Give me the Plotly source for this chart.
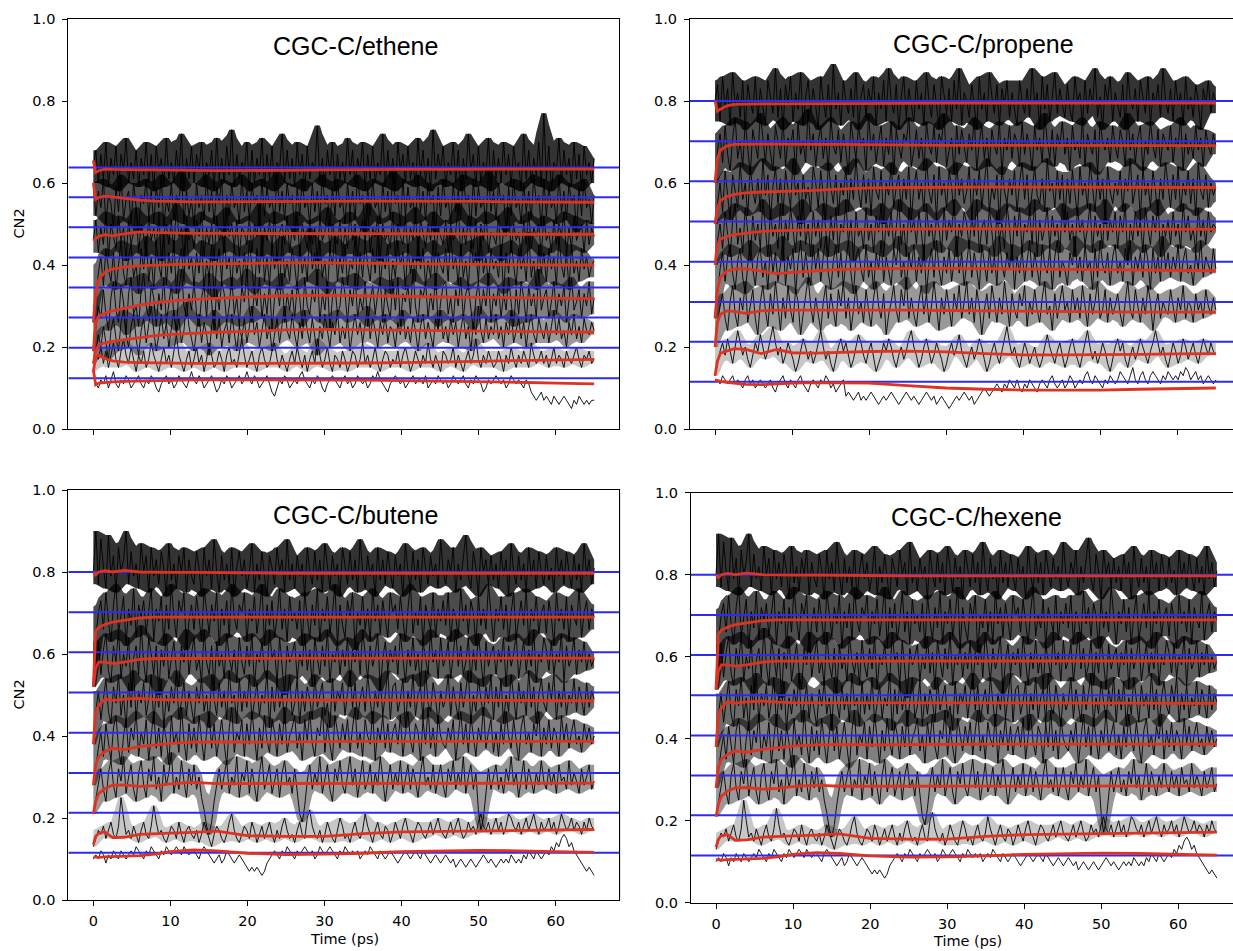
import numpy as np
import pandas as pd
import plotly.graph_objects as go

# ---------------- data ----------------
red_time = [0, 0.3, 0.7, 1.5, 2.5, 4, 6, 8, 10, 13, 16, 20, 25, 30, 35, 40, 45, 50, 55, 60, 65]
x_ticks = [0, 10, 20, 30, 40, 50, 60]
y_ticks = [0.0, 0.2, 0.4, 0.6, 0.8, 1.0]
y_tick_labels = ["0.0", "0.2", "0.4", "0.6", "0.8", "1.0"]

ethene_levels = [0.638, 0.565, 0.492, 0.418, 0.345, 0.272, 0.198, 0.124]
alkene_levels = [0.800, 0.702, 0.604, 0.506, 0.408, 0.310, 0.213, 0.115]

# running averages (red)
ethene_avg_1 = [0.655, 0.625, 0.630, 0.634, 0.633, 0.632, 0.632, 0.632, 0.631, 0.631, 0.630, 0.630, 0.631, 0.632, 0.633, 0.633, 0.633, 0.634, 0.634, 0.634, 0.634]
ethene_avg_2 = [0.600, 0.560, 0.565, 0.568, 0.566, 0.563, 0.558, 0.556, 0.555, 0.554, 0.554, 0.554, 0.555, 0.555, 0.556, 0.556, 0.555, 0.555, 0.554, 0.554, 0.553]
ethene_avg_3 = [0.460, 0.465, 0.470, 0.474, 0.471, 0.476, 0.481, 0.479, 0.478, 0.477, 0.477, 0.477, 0.477, 0.477, 0.477, 0.477, 0.476, 0.476, 0.475, 0.475, 0.475]
ethene_avg_4 = [0.260, 0.330, 0.365, 0.383, 0.390, 0.395, 0.398, 0.400, 0.401, 0.402, 0.403, 0.404, 0.405, 0.405, 0.404, 0.403, 0.402, 0.401, 0.400, 0.400, 0.400]
ethene_avg_5 = [0.190, 0.260, 0.275, 0.282, 0.288, 0.294, 0.302, 0.308, 0.312, 0.316, 0.319, 0.322, 0.325, 0.326, 0.325, 0.323, 0.322, 0.321, 0.320, 0.319, 0.318]
ethene_avg_6 = [0.160, 0.190, 0.205, 0.210, 0.214, 0.218, 0.224, 0.228, 0.231, 0.234, 0.236, 0.238, 0.242, 0.243, 0.242, 0.240, 0.239, 0.238, 0.237, 0.237, 0.236]
ethene_avg_7 = [0.140, 0.175, 0.180, 0.172, 0.166, 0.163, 0.162, 0.161, 0.161, 0.160, 0.160, 0.160, 0.160, 0.160, 0.161, 0.162, 0.163, 0.165, 0.167, 0.169, 0.170]
ethene_avg_8 = [0.145, 0.108, 0.112, 0.114, 0.115, 0.116, 0.117, 0.118, 0.119, 0.120, 0.120, 0.120, 0.120, 0.120, 0.119, 0.118, 0.117, 0.116, 0.114, 0.112, 0.110]

propene_avg_1 = [0.800, 0.775, 0.780, 0.788, 0.792, 0.793, 0.793, 0.793, 0.793, 0.793, 0.794, 0.794, 0.794, 0.795, 0.795, 0.795, 0.795, 0.795, 0.795, 0.795, 0.795]
propene_avg_2 = [0.600, 0.660, 0.680, 0.690, 0.694, 0.695, 0.695, 0.695, 0.694, 0.694, 0.694, 0.693, 0.693, 0.692, 0.692, 0.692, 0.692, 0.691, 0.691, 0.691, 0.691]
propene_avg_3 = [0.500, 0.540, 0.557, 0.567, 0.572, 0.576, 0.578, 0.579, 0.580, 0.582, 0.585, 0.588, 0.589, 0.590, 0.590, 0.590, 0.590, 0.590, 0.590, 0.589, 0.589]
propene_avg_4 = [0.400, 0.450, 0.463, 0.470, 0.474, 0.478, 0.482, 0.484, 0.485, 0.486, 0.487, 0.487, 0.488, 0.488, 0.488, 0.488, 0.488, 0.487, 0.487, 0.487, 0.487]
propene_avg_5 = [0.270, 0.340, 0.370, 0.385, 0.390, 0.391, 0.385, 0.379, 0.382, 0.386, 0.389, 0.391, 0.392, 0.392, 0.391, 0.390, 0.389, 0.388, 0.387, 0.387, 0.386]
propene_avg_6 = [0.200, 0.260, 0.280, 0.288, 0.287, 0.282, 0.288, 0.290, 0.290, 0.290, 0.291, 0.291, 0.290, 0.289, 0.288, 0.287, 0.286, 0.285, 0.285, 0.285, 0.285]
propene_avg_7 = [0.130, 0.165, 0.185, 0.190, 0.196, 0.194, 0.184, 0.194, 0.186, 0.185, 0.187, 0.189, 0.190, 0.188, 0.184, 0.181, 0.181, 0.181, 0.182, 0.183, 0.184]
propene_avg_8 = [0.120, 0.118, 0.116, 0.114, 0.112, 0.109, 0.108, 0.110, 0.112, 0.113, 0.113, 0.112, 0.106, 0.100, 0.097, 0.095, 0.095, 0.095, 0.097, 0.099, 0.100]

butene_avg_1 = [0.800, 0.793, 0.800, 0.803, 0.800, 0.804, 0.800, 0.799, 0.799, 0.799, 0.798, 0.798, 0.797, 0.797, 0.797, 0.797, 0.797, 0.797, 0.797, 0.797, 0.797]
butene_avg_2 = [0.520, 0.655, 0.665, 0.672, 0.678, 0.683, 0.688, 0.690, 0.690, 0.691, 0.691, 0.691, 0.691, 0.691, 0.691, 0.691, 0.691, 0.690, 0.690, 0.690, 0.690]
butene_avg_3 = [0.520, 0.565, 0.580, 0.580, 0.577, 0.580, 0.587, 0.589, 0.589, 0.589, 0.589, 0.589, 0.589, 0.589, 0.590, 0.590, 0.590, 0.590, 0.590, 0.590, 0.590]
butene_avg_4 = [0.380, 0.460, 0.475, 0.490, 0.487, 0.490, 0.492, 0.489, 0.488, 0.488, 0.488, 0.487, 0.487, 0.487, 0.487, 0.487, 0.487, 0.487, 0.487, 0.486, 0.486]
butene_avg_5 = [0.280, 0.330, 0.350, 0.362, 0.370, 0.367, 0.374, 0.378, 0.382, 0.385, 0.386, 0.385, 0.386, 0.387, 0.387, 0.387, 0.387, 0.387, 0.387, 0.387, 0.387]
butene_avg_6 = [0.210, 0.240, 0.260, 0.272, 0.280, 0.281, 0.277, 0.279, 0.283, 0.287, 0.284, 0.284, 0.284, 0.285, 0.285, 0.285, 0.285, 0.285, 0.285, 0.285, 0.285]
butene_avg_7 = [0.135, 0.155, 0.163, 0.166, 0.152, 0.153, 0.160, 0.162, 0.163, 0.165, 0.168, 0.157, 0.155, 0.155, 0.162, 0.166, 0.167, 0.168, 0.170, 0.171, 0.172]
butene_avg_8 = [0.105, 0.104, 0.104, 0.105, 0.106, 0.107, 0.108, 0.112, 0.118, 0.122, 0.120, 0.114, 0.111, 0.112, 0.114, 0.118, 0.120, 0.121, 0.120, 0.118, 0.116]

# CN2 trajectories (hundredths), sampled uniformly over 0-65 ps
ethene_cn2_1 = [64,68,60,67,61,70,59,66,62,69,58,67,63,71,60,65,61,68,59,66,
                62,70,60,67,58,69,63,66,59,71,61,65,60,68,62,72,58,66,61,69,
                60,67,63,70,59,65,62,68,58,71,61,66,60,69,62,73,59,67,61,65,
                63,70,58,68,60,66,62,71,59,67,61,69,58,65,63,72,60,68,61,66,
                59,70,62,67,58,69,61,65,63,74,60,66,59,68,62,70,58,67,61,65,
                60,71,62,68,59,66,63,70,58,67,61,69,60,65,62,72,59,68,61,66,
                58,70,63,67,60,69,61,65,59,71,62,68,60,66,58,73,61,67,63,69,
                59,65,62,70,60,68,58,66,61,72,63,67,59,69,60,65,62,71,58,68,
                61,66,60,70,62,67,59,69,63,65,58,72,61,68,60,66,62,70,59,77,
                61,69,58,65,63,71,60,68,62,66,59,70,61,67,58,69,62,65,60,66]
ethene_cn2_2 = [60,52,58,54,61,50,57,55,49,59,53,62,51,56,58,50,60,54,48,57,
                55,61,52,58,50,59,54,62,49,56,53,60,51,57,55,63,50,58,52,56,
                49,60,54,57,51,62,53,58,50,59,55,61,48,57,52,60,54,56,50,62,
                53,58,51,60,55,57,49,61,52,59,54,56,50,63,53,58,51,60,55,57,
                48,59,52,61,54,56,50,60,53,58,51,62,55,57,49,59,52,61,54,56,
                50,60,53,58,51,62,55,57,48,59,52,61,54,56,50,60,53,58,51,63,
                55,57,49,61,52,59,54,56,50,62,53,58,51,60,55,57,48,59,52,61,
                54,56,50,60,53,58,51,62,55,57,49,61,52,59,54,56,50,63,53,58,
                51,60,55,57,48,59,52,61,54,56,50,60,53,58,51,62,55,57,49,61,
                52,59,54,56,50,62,53,58,51,60,55,57,48,59,52,61,54,56,50,57]
ethene_cn2_3 = [46,51,43,49,45,53,42,50,47,44,52,46,49,41,51,45,48,54,43,50,
                47,42,52,46,49,44,53,41,48,50,45,51,43,55,47,49,42,52,46,48,
                44,51,47,53,42,49,45,50,41,52,46,48,43,54,47,50,44,51,42,49,
                48,45,52,43,50,47,55,42,49,46,51,44,53,41,48,50,45,52,43,49,
                46,53,42,50,47,44,51,45,49,41,52,46,48,54,43,50,47,45,51,42,
                49,44,53,46,50,42,48,51,45,55,43,49,47,52,41,50,46,48,44,53,
                42,50,47,45,52,43,49,46,54,41,51,48,44,50,46,53,42,49,47,45,
                51,43,50,46,48,55,42,49,45,52,47,44,51,41,50,46,53,43,48,47,
                45,52,41,49,47,54,43,50,46,48,42,51,45,53,44,49,47,50,42,52,
                46,48,43,51,45,50,47,53,42,49,44,52,46,48,50,43,51,45,49,47]
ethene_cn2_4 = [26,33,38,42,35,44,39,36,43,34,41,46,38,35,42,45,37,40,33,44,
                39,47,36,42,34,45,40,37,48,35,43,38,46,33,41,44,36,49,39,42,
                35,43,38,46,34,41,37,45,32,40,44,36,47,39,42,34,45,38,41,35,
                43,37,46,40,33,44,38,48,36,42,35,45,39,43,34,47,37,41,36,44,
                40,34,45,38,42,36,49,39,43,35,46,37,41,33,44,40,47,36,42,38,
                45,35,41,39,47,34,43,37,46,40,36,44,38,48,35,42,39,45,33,41,
                37,46,40,43,34,45,38,42,36,47,39,44,35,41,37,46,34,43,40,38,
                44,36,48,39,42,35,45,37,41,34,46,40,43,36,47,38,42,35,44,39,
                41,37,45,33,43,38,46,40,35,44,39,42,36,48,37,41,34,45,38,43,
                36,44,39,42,35,47,40,37,43,34,45,38,41,36,44,39,42,37,40,41]
ethene_cn2_5 = [19,25,30,27,34,28,24,32,36,29,26,35,31,23,33,37,28,30,25,34,
                38,30,27,35,32,25,33,29,37,26,31,35,28,24,34,39,30,27,33,29,
                36,28,25,32,35,27,38,31,24,34,29,36,33,26,30,37,28,32,25,35,
                31,39,29,26,34,30,37,27,33,28,36,24,32,35,30,38,26,33,29,34,
                27,35,32,25,37,30,28,34,31,39,26,33,29,36,24,32,35,28,30,37,
                33,26,34,30,38,27,32,29,36,25,31,35,28,33,37,26,34,30,27,36,
                29,37,25,33,31,35,28,39,30,26,34,32,36,27,33,29,38,25,31,35,
                36,28,32,26,34,30,37,27,33,35,29,24,32,36,28,34,30,38,26,33,
                30,35,27,33,29,37,31,25,34,28,36,32,26,35,30,33,27,39,29,32,
                34,27,31,36,28,33,30,35,26,32,37,29,31,34,27,33,30,36,28,32]
ethene_cn2_6 = [16,19,23,20,25,21,17,24,27,22,19,26,29,23,20,25,28,22,18,24,
                27,21,25,30,24,19,23,28,22,26,20,25,29,23,27,21,24,31,25,22,
                19,24,28,21,26,23,18,25,29,22,27,20,24,26,21,28,23,19,25,22,
                27,21,25,30,23,26,20,24,28,22,25,19,23,27,21,26,30,24,22,28,
                23,20,26,22,29,24,21,27,23,18,25,22,28,24,20,26,23,29,21,25,
                22,27,19,24,28,23,26,21,25,30,22,27,24,20,26,23,28,21,25,24,
                20,26,23,29,22,25,21,27,24,19,25,28,22,26,23,20,27,24,29,22,
                25,21,27,23,26,20,24,28,22,25,19,26,23,30,24,21,27,22,25,23,
                28,22,25,20,26,23,29,21,24,27,22,26,20,25,28,23,21,27,24,22,
                26,21,25,29,23,27,22,24,20,26,23,28,22,25,21,27,24,23,26,24]
ethene_cn2_7 = [14,18,17,20,16,19,15,18,21,17,15,19,22,18,16,20,17,14,18,16,
                19,15,17,21,18,16,14,17,20,16,18,15,19,23,18,16,14,17,19,15,
                17,20,16,18,14,17,21,18,15,16,19,17,14,18,20,16,17,15,19,22,
                18,15,17,19,16,14,18,20,17,15,16,19,21,17,15,18,16,14,17,19,
                16,20,17,15,18,14,17,19,16,22,18,15,17,20,16,14,18,17,15,19,
                17,14,16,19,18,15,17,21,16,18,15,17,20,16,14,17,19,18,15,17,
                16,19,15,18,20,17,14,16,19,17,15,18,16,21,17,15,18,16,14,19,
                18,16,17,20,15,18,16,14,17,19,16,18,22,17,15,18,16,19,17,15,
                16,19,17,14,18,16,20,17,15,18,16,19,17,15,21,18,16,17,19,16,
                18,15,17,20,16,18,17,15,19,17,16,18,20,17,15,18,17,19,16,17]
ethene_cn2_8 = [13,11,10,12,11,13,10,12,14,11,10,12,11,13,12,10,11,12,13,11,
                10,12,11,13,12,10,9,11,12,13,11,12,10,11,13,12,11,10,12,14,
                12,11,13,12,10,11,12,13,11,9,10,12,11,13,12,10,11,12,13,11,
                12,14,12,11,13,12,10,11,12,13,11,9,8,10,12,11,13,12,10,11,
                12,11,13,14,12,11,10,12,11,13,12,10,9,11,12,13,12,11,10,12,
                13,11,12,10,11,13,12,11,12,10,11,13,12,14,12,11,10,9,11,12,
                13,12,11,12,10,11,12,13,11,12,12,11,13,10,11,12,11,13,12,11,
                12,10,11,13,12,11,12,13,11,10,12,11,13,12,11,9,10,12,11,12,
                13,12,11,12,10,11,13,12,11,12,11,10,12,11,9,8,7,8,9,7,
                8,7,6,8,7,6,7,8,7,6,5,7,6,8,7,6,7,6,7,7]

propene_cn2_1 = [80,84,75,86,78,83,74,87,79,82,76,85,73,84,80,77,86,75,83,79,
                 74,85,81,77,88,76,83,73,84,79,86,75,82,78,87,74,81,85,77,83,
                 79,73,86,80,76,84,75,89,78,82,74,85,80,77,83,76,87,73,81,84,
                 76,83,79,86,74,82,78,85,75,88,80,77,84,73,81,86,76,83,79,75,
                 85,78,82,74,87,80,76,84,79,73,86,81,77,83,75,85,78,88,74,82,
                 80,76,84,79,73,86,78,82,75,87,81,77,84,74,83,79,85,76,82,78,
                 74,85,80,77,83,76,88,79,82,73,86,78,84,75,81,87,77,83,79,76,
                 84,78,75,86,80,82,74,85,77,83,79,88,76,81,73,84,80,86,75,82,
                 79,76,84,73,87,80,78,83,75,85,81,77,86,74,82,79,84,76,88,80,
                 77,83,75,85,79,82,74,86,78,81,76,84,80,73,83,79,85,77,82,80]
propene_cn2_2 = [60,68,72,65,74,67,63,71,76,66,70,64,75,68,62,73,69,66,77,70,
                 65,72,68,63,74,70,66,76,64,71,69,73,62,75,67,70,65,78,68,72,
                 64,70,74,66,71,63,76,69,67,73,65,72,68,62,75,70,66,74,69,71,
                 63,77,68,72,65,70,74,64,71,67,75,62,73,69,66,72,70,76,64,68,
                 73,66,71,63,75,69,67,74,65,72,70,77,64,68,71,62,74,67,73,69,
                 65,72,68,76,63,70,74,66,71,64,73,69,67,75,62,71,68,74,66,72,
                 70,64,75,67,72,69,63,74,68,71,65,77,70,66,73,64,72,69,75,67,
                 71,63,74,68,70,66,76,64,72,69,67,73,62,75,70,68,71,65,74,69,
                 66,73,70,64,77,68,72,65,71,74,63,70,67,75,69,66,73,64,72,70,
                 68,74,65,71,69,76,63,72,67,70,66,74,68,71,64,73,69,67,72,69]
propene_cn2_3 = [50,55,60,53,63,57,51,62,58,54,65,56,60,52,64,58,55,61,53,66,
                 57,62,51,59,64,55,61,52,63,58,54,66,57,60,50,62,56,59,53,64,
                 60,54,63,57,51,65,59,55,62,52,60,57,64,53,61,56,66,58,54,62,
                 55,61,52,64,58,56,63,50,60,57,65,54,59,62,53,61,56,64,51,59,
                 63,56,60,53,66,58,55,62,51,64,57,60,54,63,59,52,65,57,61,55,
                 58,64,51,61,57,63,54,60,66,53,59,56,62,50,64,58,55,61,57,63,
                 53,60,65,56,62,52,59,64,57,55,61,53,66,58,60,54,63,56,62,51,
                 61,55,63,58,52,64,57,60,54,65,59,53,62,56,61,50,64,58,55,60,
                 57,63,53,61,58,66,55,59,62,51,64,57,60,54,63,58,52,61,56,65,
                 59,54,62,56,64,53,60,57,63,55,61,52,65,58,56,62,54,60,57,59]
propene_cn2_4 = [40,46,50,44,53,47,42,51,55,45,49,43,54,48,41,52,46,50,44,56,
                 48,42,53,47,50,44,55,41,51,46,54,49,43,52,47,56,45,50,42,53,
                 47,51,44,55,49,42,52,46,54,43,50,48,56,45,51,41,53,47,49,44,
                 54,46,50,43,52,48,55,42,51,47,53,44,49,56,45,50,42,54,48,51,
                 45,53,48,41,55,47,50,44,52,49,43,54,46,51,48,56,42,50,47,53,
                 50,44,52,47,56,43,49,51,45,54,48,42,53,46,50,44,55,49,41,52,
                 47,54,43,50,48,53,45,56,42,51,46,49,54,44,52,47,50,43,55,48,
                 53,46,50,42,54,48,51,45,49,55,43,52,47,50,44,56,46,51,48,53,
                 44,52,48,55,41,50,46,53,47,51,43,54,49,45,52,48,56,42,50,47,
                 51,45,53,47,50,44,55,48,52,46,49,43,54,47,51,45,53,48,50,49]
propene_cn2_5 = [27,34,39,43,36,42,45,38,34,41,44,37,33,40,46,39,35,42,44,37,
                 41,34,45,38,43,36,40,47,35,42,39,44,33,41,46,37,43,38,35,45,
                 39,44,36,42,47,38,34,41,45,37,43,35,40,46,38,33,42,44,39,36,
                 45,37,41,34,43,39,46,36,42,38,35,44,40,47,37,41,34,43,39,45,
                 36,42,38,45,33,40,44,37,46,39,35,42,38,44,36,41,47,38,43,35,
                 40,46,37,43,39,34,45,41,36,44,38,42,35,47,40,37,43,39,45,34,
                 42,38,44,36,41,46,37,43,39,35,45,40,38,44,34,42,46,37,41,39,
                 35,43,40,47,38,42,36,45,39,41,34,44,37,46,40,38,43,35,42,45,
                 38,41,36,44,40,46,35,42,39,43,37,45,41,34,44,38,42,36,47,39,
                 43,37,42,39,45,36,41,44,38,40,35,43,39,46,37,42,40,38,44,39]
propene_cn2_6 = [20,26,30,33,27,24,31,35,28,25,32,29,36,26,30,34,27,23,31,35,
                 29,25,33,28,36,30,24,32,27,35,29,26,34,31,23,28,33,37,30,26,
                 32,28,24,31,35,27,33,29,25,34,30,36,27,32,24,29,35,28,31,26,
                 34,29,25,32,36,30,27,33,23,28,31,35,29,26,34,30,37,27,32,28,
                 25,31,35,28,33,26,30,36,29,24,32,28,34,30,25,33,29,35,27,31,
                 36,28,32,26,34,30,23,29,33,27,35,31,26,32,28,36,30,25,33,29,
                 27,33,30,35,25,31,28,34,29,26,32,36,28,30,24,33,27,31,35,29,
                 31,26,34,29,32,27,35,30,25,33,28,31,36,27,29,34,26,32,28,30,
                 33,28,25,31,36,29,27,34,30,26,32,28,35,31,24,30,33,27,31,29,
                 28,34,30,26,32,29,35,27,31,30,26,33,29,31,27,34,30,28,32,29]
propene_cn2_7 = [13,16,19,21,18,22,19,16,20,24,21,18,20,17,15,18,21,19,23,20,
                 17,19,22,25,21,18,20,16,18,21,19,17,14,16,19,22,20,17,19,16,
                 18,21,24,20,17,19,16,14,17,20,22,19,21,18,15,17,20,23,21,18,
                 16,19,21,17,14,16,18,21,19,22,20,17,15,18,20,17,19,22,24,20,
                 18,15,17,20,22,19,16,18,21,19,17,14,16,19,21,18,20,23,19,17,
                 15,18,20,17,19,22,20,17,14,16,19,21,18,16,19,22,25,21,18,20,
                 17,15,18,21,19,16,18,20,17,15,17,20,23,20,18,16,19,21,18,15,
                 17,20,22,19,17,15,18,21,24,20,17,19,16,18,21,19,16,14,17,20,
                 22,19,21,17,15,18,20,17,19,22,20,18,16,19,21,24,21,18,20,17,
                 15,18,21,19,16,18,22,20,17,19,21,18,16,19,22,20,18,21,19,18]
propene_cn2_8 = [12,12,11,13,12,11,12,13,11,12,11,10,12,13,11,12,10,11,12,11,
                 10,11,12,10,9,11,12,13,11,10,12,11,10,12,13,11,10,9,11,12,
                 11,10,12,11,13,12,10,11,9,10,11,12,8,9,8,7,8,9,7,8,
                 7,8,9,8,7,6,7,8,7,8,9,8,7,6,7,8,9,8,7,8,
                 7,6,7,8,9,8,7,8,6,7,8,7,6,5,6,7,8,7,8,9,
                 8,7,8,6,7,8,9,10,9,8,9,10,11,10,9,11,10,12,11,10,
                 12,10,9,11,10,12,11,10,9,11,12,11,10,12,13,11,10,11,12,10,
                 11,13,12,10,11,12,11,13,14,12,11,13,12,11,10,12,11,13,12,11,
                 12,14,13,12,11,13,15,12,11,13,14,12,11,13,14,13,12,11,13,12,
                 14,13,12,13,12,14,13,15,14,12,13,14,12,13,11,12,13,12,11,12]

butene_cn2_1 = [80,90,77,88,81,76,89,79,84,75,86,80,83,90,77,85,79,82,76,87,
                80,84,75,86,79,83,77,85,81,74,87,78,82,76,84,80,86,75,83,79,
                77,85,81,74,86,79,83,76,88,80,75,84,78,82,77,86,74,81,85,79,
                83,76,80,87,75,82,78,85,79,74,84,81,77,86,80,83,75,88,78,82,
                76,84,79,82,74,86,80,77,85,78,83,75,87,81,76,84,79,82,74,86,
                81,77,85,78,83,75,88,80,76,84,79,82,74,86,78,83,77,85,80,76,
                84,79,82,74,87,80,76,85,78,83,75,86,81,77,84,79,82,76,88,80,
                77,83,80,86,75,82,78,84,89,79,76,85,81,74,86,80,83,77,84,78,
                82,76,85,79,83,74,87,80,77,84,78,82,75,86,79,83,76,85,80,77,
                84,78,81,75,86,79,83,77,85,80,76,84,78,82,75,87,79,83,77,81]
butene_cn2_2 = [52,64,70,73,66,75,68,63,72,77,65,70,74,62,71,67,76,64,72,69,
                73,65,70,76,63,71,68,74,62,72,66,77,69,64,73,70,75,61,68,72,
                66,74,69,63,76,70,65,72,68,75,62,71,67,73,64,77,69,66,72,70,
                75,63,71,68,74,65,70,77,62,72,67,73,64,69,76,66,71,63,74,68,
                70,66,73,62,75,69,64,72,67,76,63,71,68,74,65,70,77,62,72,67,
                64,73,69,75,61,70,67,74,66,71,63,76,68,72,65,73,69,64,75,70,
                72,66,74,68,63,71,77,65,70,67,74,62,72,69,66,75,64,71,68,73,
                67,75,63,71,69,64,76,68,72,65,73,70,62,74,67,71,66,77,69,63,
                71,68,74,66,72,63,70,75,64,69,73,67,76,62,71,68,74,65,70,72,
                65,73,69,62,75,68,71,66,74,63,72,69,67,76,64,70,73,66,71,69]
butene_cn2_3 = [52,57,63,55,61,65,56,53,62,58,66,54,60,57,64,51,59,62,55,67,
                58,53,64,60,55,62,50,61,57,65,54,59,63,56,52,62,58,66,55,60,
                64,56,59,53,66,58,55,62,51,63,57,60,54,65,59,56,61,53,64,58,
                55,62,57,65,52,60,58,63,56,54,66,59,61,53,64,57,50,62,58,60,
                63,54,60,57,65,56,61,52,64,59,55,62,57,66,53,60,58,63,55,61,
                57,64,52,61,58,63,55,66,59,54,62,57,60,65,51,59,63,56,61,58,
                62,55,65,58,53,61,57,64,56,60,52,63,59,55,66,58,61,54,64,57,
                59,63,54,60,66,57,62,55,58,64,53,61,56,65,59,52,63,57,60,62,
                55,61,58,64,52,62,57,60,65,54,59,63,56,61,57,66,53,60,58,64,
                61,56,63,55,60,58,65,53,62,57,59,64,55,61,58,63,56,60,57,59]
butene_cn2_4 = [38,46,51,44,49,54,46,43,52,48,55,45,50,42,53,47,56,44,51,48,
                53,45,49,55,43,51,47,54,42,50,46,52,48,56,44,49,53,45,51,47,
                43,52,48,54,46,50,42,55,49,45,53,47,51,44,56,48,50,43,54,46,
                51,47,55,44,49,53,45,50,48,56,42,52,46,54,47,51,43,49,55,45,
                48,54,43,51,46,52,49,44,55,47,50,53,45,48,42,54,46,51,49,53,
                45,50,56,47,53,44,49,52,46,55,48,43,51,47,54,45,50,56,44,52,
                53,46,49,54,42,51,47,55,45,50,52,44,56,48,46,53,49,43,51,47,
                49,55,45,52,48,44,53,47,51,56,43,50,46,54,49,45,52,48,55,44,
                52,47,54,43,50,46,55,49,44,53,48,51,45,56,47,52,43,50,54,48,
                46,53,49,55,44,51,47,53,45,50,48,54,46,52,49,45,53,47,51,49]
butene_cn2_5 = [28,33,37,41,35,43,38,34,42,45,37,33,40,44,36,42,39,46,35,41,
                38,44,34,40,46,37,42,35,43,39,33,45,38,41,36,47,39,34,43,37,
                42,36,45,39,34,41,46,37,43,35,40,44,38,33,42,47,36,41,39,44,
                35,43,38,46,40,34,42,37,45,39,36,44,41,35,43,38,47,36,40,42,
                45,37,41,34,44,39,46,38,35,42,40,47,36,43,38,34,45,41,37,43,
                39,44,36,42,47,37,41,35,44,40,38,46,34,42,39,45,37,43,36,41,
                43,38,45,35,40,46,39,36,43,41,34,44,38,47,37,42,35,45,40,38,
                37,42,39,44,34,41,46,38,43,36,45,40,35,42,39,47,37,41,44,36,
                41,35,43,38,46,40,37,44,39,34,42,45,38,41,36,43,40,46,35,42,
                38,44,37,42,40,35,45,39,43,37,41,44,38,40,36,43,39,42,38,40]
butene_cn2_6 = [21,25,29,32,27,24,31,34,28,25,32,29,35,26,30,33,27,24,31,34,
                28,25,32,29,35,27,30,24,33,28,31,36,26,30,27,34,29,25,32,28,
                33,27,30,25,22,18,16,19,24,28,32,27,31,34,26,30,28,35,25,31,
                29,34,26,32,28,24,31,35,27,30,33,26,29,32,25,31,34,28,30,26,
                32,27,21,19,23,29,33,27,31,28,35,26,30,33,27,24,32,29,34,28,
                26,31,35,28,32,25,30,34,27,29,33,26,31,28,35,30,24,29,33,27,
                31,28,34,26,30,33,27,32,29,25,31,35,28,30,27,33,26,30,33,28,
                25,32,29,34,27,31,28,35,26,30,33,27,31,22,17,20,27,32,27,30,
                33,27,30,26,32,29,35,28,31,25,30,34,27,32,29,26,31,28,34,29,
                27,32,28,31,26,33,29,30,27,34,28,31,29,26,32,28,30,33,27,29]
butene_cn2_7 = [13,15,17,16,18,15,17,19,16,15,18,25,20,16,17,15,18,16,14,17,
                19,16,15,18,23,19,16,17,15,14,16,18,17,15,19,16,14,17,18,16,
                15,17,14,16,19,17,15,13,16,18,17,15,14,16,19,21,17,15,14,16,
                18,17,15,19,17,14,16,18,15,17,19,16,14,17,15,18,20,17,15,16,
                14,17,19,16,15,20,22,18,16,15,17,14,16,19,17,15,14,17,20,18,
                15,16,14,17,19,16,15,17,21,18,16,14,17,19,16,15,18,17,14,16,
                19,17,15,18,20,17,16,14,17,19,18,16,15,17,19,16,18,20,17,16,
                15,17,19,16,18,20,17,15,16,19,17,18,16,19,21,18,17,19,16,18,
                20,17,19,16,18,21,20,18,17,19,16,18,20,17,19,21,18,16,19,17,
                18,20,17,19,16,18,21,19,17,18,20,17,19,18,16,19,17,20,18,17]
butene_cn2_8 = [10,11,10,12,11,9,11,10,12,11,10,12,11,10,11,12,11,13,12,11,
                10,12,11,13,12,11,10,12,11,13,12,11,12,13,12,11,13,12,11,12,
                12,11,10,12,13,12,11,10,9,10,11,9,10,12,11,10,9,10,11,10,
                9,8,7,8,7,8,7,6,7,9,10,11,12,11,10,12,11,13,12,11,
                10,12,11,12,13,12,11,12,10,11,13,12,11,12,13,12,11,10,12,11,
                13,12,11,12,11,12,10,11,12,11,13,12,11,10,12,11,10,11,12,11,
                10,9,10,11,12,11,10,11,12,11,10,12,11,10,9,10,11,10,9,10,
                11,10,9,10,8,9,10,9,8,9,10,9,8,9,10,11,10,9,10,9,
                8,9,10,9,10,9,11,10,9,10,9,11,10,12,11,10,12,11,10,11,
                12,11,13,12,14,13,15,16,15,13,14,12,11,10,9,8,7,8,7,6]

# hexene panel shows the same trajectories as butene in the source figure
hexene_cn2 = [butene_cn2_1, butene_cn2_2, butene_cn2_3, butene_cn2_4,
              butene_cn2_5, butene_cn2_6, butene_cn2_7, butene_cn2_8]
hexene_avg = [butene_avg_1, butene_avg_2, butene_avg_3, butene_avg_4,
              butene_avg_5, butene_avg_6, butene_avg_7, butene_avg_8]

panels = [
    dict(title="CGC-C/ethene", levels=ethene_levels,
         black=[ethene_cn2_1, ethene_cn2_2, ethene_cn2_3, ethene_cn2_4,
                ethene_cn2_5, ethene_cn2_6, ethene_cn2_7, ethene_cn2_8],
         red=[ethene_avg_1, ethene_avg_2, ethene_avg_3, ethene_avg_4,
              ethene_avg_5, ethene_avg_6, ethene_avg_7, ethene_avg_8],
         tpos=(34.0, 0.934)),
    dict(title="CGC-C/propene", levels=alkene_levels,
         black=[propene_cn2_1, propene_cn2_2, propene_cn2_3, propene_cn2_4,
                propene_cn2_5, propene_cn2_6, propene_cn2_7, propene_cn2_8],
         red=[propene_avg_1, propene_avg_2, propene_avg_3, propene_avg_4,
              propene_avg_5, propene_avg_6, propene_avg_7, propene_avg_8],
         tpos=(34.8, 0.940)),
    dict(title="CGC-C/butene", levels=alkene_levels,
         black=[butene_cn2_1, butene_cn2_2, butene_cn2_3, butene_cn2_4,
                butene_cn2_5, butene_cn2_6, butene_cn2_7, butene_cn2_8],
         red=[butene_avg_1, butene_avg_2, butene_avg_3, butene_avg_4,
              butene_avg_5, butene_avg_6, butene_avg_7, butene_avg_8],
         tpos=(34.0, 0.939)),
    dict(title="CGC-C/hexene", levels=alkene_levels,
         black=hexene_cn2, red=hexene_avg, tpos=(33.8, 0.941)),
]

# ---------------- figure ----------------
W, H = 1233, 951
BLUE = "#2b2bf2"
RED = "#dd3322"
TICK_FONT = dict(family="DejaVu Sans", size=14.5, color="black")
# density of the fast-fluctuation band drawn under each trajectory (top to bottom)
BAND_ALPHA = [0.8, 0.7, 0.64, 0.58, 0.5, 0.4, 0.22, 0.0]
BAND_WINDOW = 5

# axis geometry (pixels): left, right, top, bottom
geom = [
    (68.3, 619.0, 19.0, 429.0),
    (690.0, 1233.0, 19.0, 429.0),
    (68.3, 619.0, 490.0, 900.0),
    (691.0, 1233.0, 492.7, 902.7),
]
px_per_ps = 7.705
x_left = -3.25

fig = go.Figure()
layout_axes = {}
for i, (p, g) in enumerate(zip(panels, geom), start=1):
    xa = "x" if i == 1 else f"x{i}"
    ya = "y" if i == 1 else f"y{i}"
    l, r, t, b = g
    x_right = x_left + (r - l) / px_per_ps
    common = dict(xaxis=xa, yaxis=ya, hoverinfo="skip", showlegend=False)

    # black trajectories: local min/max spread band (lightly smoothed) + the sampled line
    for k, vals in enumerate(p["black"]):
        y = np.array(vals, dtype=float) / 100.0
        tt = np.linspace(0.0, 65.0, len(y))
        alpha = BAND_ALPHA[k]
        if alpha > 0:
            s = pd.Series(y)
            roll = s.rolling(BAND_WINDOW, center=True, min_periods=1)
            hi = roll.max().rolling(3, center=True, min_periods=1).mean().to_numpy()
            lo = roll.min().rolling(3, center=True, min_periods=1).mean().to_numpy()
            fig.add_trace(go.Scatter(x=tt, y=hi, mode="lines", line=dict(width=0),
                                     **common))
            fig.add_trace(go.Scatter(x=tt, y=lo, mode="lines", line=dict(width=0),
                                     fill="tonexty", fillcolor=f"rgba(0,0,0,{alpha})",
                                     **common))
        fig.add_trace(go.Scatter(x=tt, y=y, mode="lines",
                                 line=dict(color="black", width=0.9), **common))

    # blue reference levels spanning the whole axis
    for lvl in p["levels"]:
        fig.add_trace(go.Scatter(x=[x_left, x_right], y=[lvl, lvl], mode="lines",
                                 line=dict(color=BLUE, width=2), **common))

    # red running averages
    for rv in p["red"]:
        fig.add_trace(go.Scatter(x=red_time, y=rv, mode="lines",
                                 line=dict(color=RED, width=2.8), **common))

    fig.add_annotation(x=p["tpos"][0], y=p["tpos"][1], xref=xa, yref=ya,
                       text=p["title"], showarrow=False, xanchor="center", yanchor="middle",
                       font=dict(family="Liberation Sans, Arial", size=25, color="black"))

    is_right = i in (2, 4)
    is_bottom = i in (3, 4)
    xkey = "xaxis" if i == 1 else f"xaxis{i}"
    ykey = "yaxis" if i == 1 else f"yaxis{i}"
    layout_axes[xkey] = dict(
        domain=[l / W, r / W], anchor=ya, range=[x_left, x_right],
        tickvals=x_ticks, showticklabels=is_bottom, automargin=False,
        showline=True, linecolor="black", linewidth=1, mirror=True,
        ticks="outside", ticklen=5, tickwidth=1, tickcolor="black",
        showgrid=False, zeroline=False, tickfont=TICK_FONT, ticklabelstandoff=3,
    )
    layout_axes[ykey] = dict(
        domain=[1 - b / H, 1 - t / H], anchor=xa, range=[0, 1],
        tickvals=y_ticks, ticktext=y_tick_labels, automargin=False,
        showline=True, linecolor="black", linewidth=1, mirror=not is_right,
        ticks="outside", ticklen=5, tickwidth=1, tickcolor="black",
        showgrid=False, zeroline=False, tickfont=TICK_FONT, ticklabelstandoff=4,
    )

# axis labels
for yc in (224.0, 695.0):
    fig.add_annotation(x=18.5 / W, y=1 - yc / H, xref="paper", yref="paper",
                       text="CN2", textangle=-90, showarrow=False,
                       xanchor="center", yanchor="middle", font=TICK_FONT)
for xc, yc in ((344.0, 938.5), (967.0, 940.5)):
    fig.add_annotation(x=xc / W, y=1 - yc / H, xref="paper", yref="paper",
                       text="Time (ps)", showarrow=False,
                       xanchor="center", yanchor="middle", font=TICK_FONT)

# faint seam between the two bottom images
fig.add_shape(type="line", xref="paper", yref="paper", x0=620.5 / W, x1=620.5 / W,
              y0=1 - 900 / H, y1=1 - 488 / H, line=dict(color="#e6e6e6", width=1))

fig.update_layout(width=W, height=H,
                  margin=dict(l=0, r=0, t=0, b=0, pad=0, autoexpand=False),
                  paper_bgcolor="white", plot_bgcolor="white", **layout_axes)

fig.write_html("out.html", config={"responsive": False, "displayModeBar": False},
               post_script="document.body.style.margin='0px';document.body.style.overflow='hidden';")
